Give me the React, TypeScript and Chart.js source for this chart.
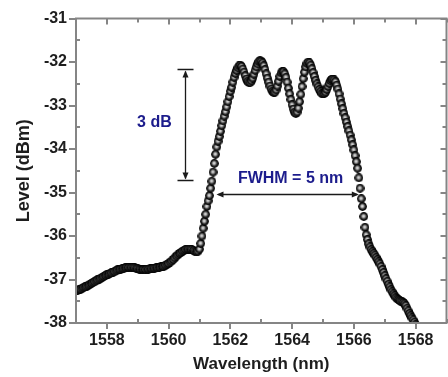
import React, { useEffect, useRef } from "react";
import { Chart, registerables } from "chart.js";

Chart.register(...registerables);

// ---- data ----
const wavelengthNm = [
  1557.00, 1557.05, 1557.10, 1557.15, 1557.20, 1557.25, 1557.30, 1557.35, 1557.40, 1557.45,
  1557.50, 1557.55, 1557.60, 1557.65, 1557.70, 1557.75, 1557.80, 1557.85, 1557.90, 1557.95,
  1558.00, 1558.05, 1558.10, 1558.15, 1558.20, 1558.25, 1558.30, 1558.35, 1558.40, 1558.45,
  1558.50, 1558.55, 1558.60, 1558.65, 1558.70, 1558.75, 1558.80, 1558.85, 1558.90, 1558.95,
  1559.00, 1559.05, 1559.10, 1559.15, 1559.20, 1559.25, 1559.30, 1559.35, 1559.40, 1559.45,
  1559.50, 1559.55, 1559.60, 1559.65, 1559.70, 1559.75, 1559.80, 1559.85, 1559.90, 1559.95,
  1560.00, 1560.05, 1560.10, 1560.15, 1560.20, 1560.25, 1560.30, 1560.35, 1560.40, 1560.45,
  1560.50, 1560.55, 1560.60, 1560.65, 1560.70, 1560.75, 1560.80, 1560.85, 1560.90, 1560.95,
  1561.00, 1561.04, 1561.08, 1561.12, 1561.16, 1561.20, 1561.24, 1561.28, 1561.32, 1561.36,
  1561.40, 1561.44, 1561.48, 1561.52, 1561.56, 1561.60, 1561.64, 1561.68, 1561.72, 1561.76,
  1561.80, 1561.84, 1561.88, 1561.92, 1561.96, 1562.00, 1562.04, 1562.08, 1562.12, 1562.16,
  1562.20, 1562.24, 1562.28, 1562.32, 1562.36, 1562.40, 1562.44, 1562.48, 1562.52, 1562.56,
  1562.60, 1562.64, 1562.68, 1562.72, 1562.76, 1562.80, 1562.84, 1562.88, 1562.92, 1562.96,
  1563.00, 1563.04, 1563.08, 1563.12, 1563.16, 1563.20, 1563.24, 1563.28, 1563.32, 1563.36,
  1563.40, 1563.44, 1563.48, 1563.52, 1563.56, 1563.60, 1563.64, 1563.68, 1563.72, 1563.76,
  1563.80, 1563.84, 1563.88, 1563.92, 1563.96, 1564.00, 1564.04, 1564.08, 1564.12, 1564.16,
  1564.20, 1564.24, 1564.28, 1564.32, 1564.36, 1564.40, 1564.44, 1564.48, 1564.52, 1564.56,
  1564.60, 1564.64, 1564.68, 1564.72, 1564.76, 1564.80, 1564.84, 1564.88, 1564.92, 1564.96,
  1565.00, 1565.04, 1565.08, 1565.12, 1565.16, 1565.20, 1565.24, 1565.28, 1565.32, 1565.36,
  1565.40, 1565.44, 1565.48, 1565.52, 1565.56, 1565.60, 1565.64, 1565.68, 1565.72, 1565.76,
  1565.80, 1565.84, 1565.88, 1565.92, 1565.96, 1566.00, 1566.04, 1566.08, 1566.12, 1566.16,
  1566.20, 1566.24, 1566.28, 1566.32, 1566.36, 1566.40, 1566.44, 1566.48, 1566.52, 1566.56,
  1566.60, 1566.64, 1566.68, 1566.72, 1566.76, 1566.80, 1566.84, 1566.88, 1566.92, 1566.96,
  1567.00, 1567.04, 1567.08, 1567.12, 1567.16, 1567.20, 1567.24, 1567.28, 1567.32, 1567.36,
  1567.40, 1567.44, 1567.48, 1567.52, 1567.56, 1567.60, 1567.64, 1567.68, 1567.72, 1567.76,
  1567.80, 1567.84, 1567.88, 1567.92, 1567.96, 1568.00, 1568.04,
];

const levelDbm = [
  -37.26, -37.25, -37.23, -37.22, -37.20, -37.18, -37.17, -37.15, -37.13, -37.11,
  -37.09, -37.07, -37.05, -37.03, -37.01, -36.99, -36.97, -36.95, -36.93, -36.91,
  -36.89, -36.88, -36.86, -36.85, -36.83, -36.82, -36.80, -36.78, -36.77, -36.76,
  -36.75, -36.74, -36.73, -36.72, -36.72, -36.72, -36.72, -36.72, -36.73, -36.74,
  -36.75, -36.76, -36.77, -36.77, -36.77, -36.77, -36.76, -36.76, -36.75, -36.75,
  -36.74, -36.74, -36.73, -36.73, -36.72, -36.71, -36.70, -36.69, -36.67, -36.65,
  -36.63, -36.60, -36.57, -36.54, -36.50, -36.46, -36.43, -36.40, -36.38, -36.35,
  -36.33, -36.31, -36.30, -36.30, -36.30, -36.31, -36.33, -36.35, -36.36, -36.35,
  -36.30, -36.17, -36.00, -35.82, -35.66, -35.50, -35.32, -35.19, -35.07, -34.90,
  -34.74, -34.53, -34.33, -34.12, -33.95, -33.82, -33.71, -33.59, -33.46, -33.35,
  -33.24, -33.14, -33.03, -32.91, -32.79, -32.67, -32.58, -32.46, -32.35, -32.26,
  -32.19, -32.13, -32.09, -32.07, -32.10, -32.16, -32.23, -32.31, -32.39, -32.44,
  -32.47, -32.47, -32.43, -32.37, -32.28, -32.19, -32.11, -32.04, -31.99, -31.97,
  -31.98, -32.02, -32.08, -32.17, -32.27, -32.37, -32.46, -32.55, -32.62, -32.67,
  -32.70, -32.69, -32.64, -32.55, -32.44, -32.33, -32.25, -32.22, -32.22, -32.27,
  -32.35, -32.46, -32.60, -32.73, -32.86, -32.98, -33.08, -33.15, -33.18, -33.15,
  -33.06, -32.91, -32.74, -32.56, -32.38, -32.23, -32.11, -32.03, -32.00, -32.02,
  -32.07, -32.15, -32.24, -32.33, -32.42, -32.50, -32.57, -32.63, -32.68, -32.72,
  -32.73, -32.72, -32.69, -32.63, -32.56, -32.49, -32.43, -32.40, -32.39, -32.41,
  -32.45, -32.53, -32.62, -32.73, -32.85, -32.96, -33.07, -33.18, -33.28, -33.38,
  -33.48, -33.58, -33.68, -33.79, -33.90, -34.02, -34.15, -34.29, -34.44, -34.66,
  -34.90, -35.14, -35.32, -35.55, -35.80, -35.97, -36.08, -36.18, -36.25, -36.31,
  -36.36, -36.40, -36.44, -36.49, -36.54, -36.59, -36.64, -36.70, -36.77, -36.84,
  -36.91, -36.98, -37.04, -37.11, -37.17, -37.23, -37.28, -37.33, -37.37, -37.41,
  -37.44, -37.46, -37.48, -37.50, -37.51, -37.53, -37.56, -37.60, -37.66, -37.72,
  -37.78, -37.83, -37.88, -37.93, -37.98, -38.04, -38.10,
];

const xMajorTicks = [1558, 1560, 1562, 1564, 1566, 1568];
const xMinorTicks = [1557, 1559, 1561, 1563, 1565, 1567, 1569];
const yMajorTicks = [-38, -37, -36, -35, -34, -33, -32, -31];
const yMinorTicks = [-37.5, -36.5, -35.5, -34.5, -33.5, -32.5, -31.5];

const xRange = [1557, 1569];
const yRange = [-38, -31];

// annotation anchors (data coordinates)
const dbArrowX = 1560.54;
const dbArrowTop = -32.15;
const dbArrowBottom = -34.71;
const dbLabel = { x: 1559.54, y: -33.39, text: "3 dB" };
const fwhmArrowY = -35.03;
const fwhmArrowLeft = 1561.55;
const fwhmArrowRight = 1566.16;
const fwhmLabel = { x: 1563.95, y: -34.67, text: "FWHM = 5 nm" };

const FONT = "'Liberation Sans', Arial, sans-serif";
const AXIS_COLOR = "#858585";
const TEXT_COLOR = "#1e1e1e";
const NOTE_COLOR = "#1c1c8c";

function makeSphere(d: number): HTMLCanvasElement {
  const c = document.createElement("canvas");
  c.width = d;
  c.height = d;
  const g = c.getContext("2d")!;
  const r = d / 2;
  const grad = g.createRadialGradient(r - 0.4, r - 0.4, 0.2, r, r, r);
  grad.addColorStop(0, "#e6e6e6");
  grad.addColorStop(0.28, "#a8a8a8");
  grad.addColorStop(0.55, "#3c3c3c");
  grad.addColorStop(0.78, "#0a0a0a");
  grad.addColorStop(1, "#000000");
  g.fillStyle = grad;
  g.beginPath();
  g.arc(r, r, r - 0.1, 0, Math.PI * 2);
  g.fill();
  return c;
}

function arrowHead(ctx: CanvasRenderingContext2D, tx: number, ty: number, dx: number, dy: number) {
  const len = 7;
  const half = 3;
  const bx = tx - dx * len;
  const by = ty - dy * len;
  ctx.beginPath();
  ctx.moveTo(tx, ty);
  ctx.lineTo(bx - dy * half, by + dx * half);
  ctx.lineTo(bx + dy * half, by - dx * half);
  ctx.closePath();
  ctx.fill();
}

const framePlugin = {
  id: "frameTicks",
  afterDatasetsDraw(chart: any) {
    const { ctx, chartArea } = chart;
    const { left, right, top, bottom } = chartArea;
    const xs = chart.scales.x;
    const ys = chart.scales.y;
    ctx.save();
    ctx.strokeStyle = AXIS_COLOR;
    ctx.lineWidth = 2;
    ctx.beginPath();
    ctx.rect(left, top, right - left, bottom - top);
    ctx.stroke();
    ctx.beginPath();
    xMajorTicks.forEach((v) => {
      const p = Math.round(xs.getPixelForValue(v));
      ctx.moveTo(p, bottom);
      ctx.lineTo(p, bottom + 6);
      ctx.moveTo(p, top);
      ctx.lineTo(p, top + 6);
    });
    xMinorTicks.forEach((v) => {
      const p = Math.round(xs.getPixelForValue(v));
      ctx.moveTo(p, bottom);
      ctx.lineTo(p, bottom - 4);
      ctx.moveTo(p, top);
      ctx.lineTo(p, top + 4);
    });
    yMajorTicks.forEach((v) => {
      const p = Math.round(ys.getPixelForValue(v));
      ctx.moveTo(left - 7, p);
      ctx.lineTo(left, p);
      ctx.moveTo(right, p);
      ctx.lineTo(right - 6, p);
    });
    yMinorTicks.forEach((v) => {
      const p = Math.round(ys.getPixelForValue(v));
      ctx.moveTo(left, p);
      ctx.lineTo(left + 4, p);
      ctx.moveTo(right, p);
      ctx.lineTo(right - 4, p);
    });
    ctx.stroke();

    // annotations
    ctx.strokeStyle = "#1a1a1a";
    ctx.fillStyle = "#1a1a1a";
    ctx.lineWidth = 1.3;
    const ax = Math.round(xs.getPixelForValue(dbArrowX)) + 0.5;
    const at = Math.round(ys.getPixelForValue(dbArrowTop)) + 0.5;
    const ab = Math.round(ys.getPixelForValue(dbArrowBottom)) + 0.5;
    ctx.beginPath();
    ctx.moveTo(ax - 8, at);
    ctx.lineTo(ax + 8, at);
    ctx.moveTo(ax - 8, ab);
    ctx.lineTo(ax + 8, ab);
    ctx.moveTo(ax, at + 2);
    ctx.lineTo(ax, ab - 2);
    ctx.stroke();
    arrowHead(ctx, ax, at + 1, 0, -1);
    arrowHead(ctx, ax, ab - 1, 0, 1);

    const fy = Math.round(ys.getPixelForValue(fwhmArrowY)) + 0.5;
    const fl = xs.getPixelForValue(fwhmArrowLeft);
    const fr = xs.getPixelForValue(fwhmArrowRight);
    ctx.beginPath();
    ctx.moveTo(fl + 2, fy);
    ctx.lineTo(fr - 2, fy);
    ctx.stroke();
    arrowHead(ctx, fl, fy, -1, 0);
    arrowHead(ctx, fr, fy, 1, 0);

    ctx.fillStyle = NOTE_COLOR;
    ctx.font = `bold 16px ${FONT}`;
    ctx.textAlign = "center";
    ctx.textBaseline = "middle";
    ctx.fillText(dbLabel.text, xs.getPixelForValue(dbLabel.x), ys.getPixelForValue(dbLabel.y));
    ctx.fillText(fwhmLabel.text, xs.getPixelForValue(fwhmLabel.x), ys.getPixelForValue(fwhmLabel.y));
    ctx.restore();
  },
};

export default function App() {
  const ref = useRef<HTMLCanvasElement | null>(null);

  useEffect(() => {
    if (!ref.current) return;
    const sphere = makeSphere(9);
    const points = wavelengthNm.map((x, i) => ({ x, y: levelDbm[i] }));
    const chart = new Chart(ref.current, {
      type: "scatter",
      data: {
        datasets: [
          {
            data: points,
            pointStyle: sphere as any,
            pointRadius: 4.5,
            showLine: false,
          },
        ],
      },
      options: {
        animation: false,
        responsive: false,
        events: [],
        layout: { padding: { left: 0, right: 3, top: 12, bottom: 0 } },
        plugins: { legend: { display: false }, tooltip: { enabled: false } },
        scales: {
          x: {
            type: "linear",
            min: xRange[0],
            max: xRange[1],
            grid: { display: false, drawTicks: false },
            border: { display: false },
            afterBuildTicks: (s: any) => {
              s.ticks = xMajorTicks.map((v) => ({ value: v }));
            },
            afterFit: (s: any) => {
              s.height = 54;
            },
            ticks: {
              padding: 8,
              color: TEXT_COLOR,
              font: { family: FONT, size: 16, weight: "bold" },
              callback: (v: any) => String(v),
              maxRotation: 0,
              autoSkip: false,
            },
            title: {
              display: true,
              text: "Wavelength (nm)",
              color: TEXT_COLOR,
              font: { family: FONT, size: 17, weight: "bold" },
              padding: { top: 0, bottom: 2 },
            },
          },
          y: {
            type: "linear",
            min: yRange[0],
            max: yRange[1],
            grid: { display: false, drawTicks: false },
            border: { display: false },
            afterBuildTicks: (s: any) => {
              s.ticks = yMajorTicks.map((v) => ({ value: v }));
            },
            afterFit: (s: any) => {
              s.width = 76;
            },
            ticks: {
              padding: 9,
              color: TEXT_COLOR,
              font: { family: FONT, size: 16, weight: "bold" },
              callback: (v: any) => String(v),
              autoSkip: false,
            },
            title: {
              display: true,
              text: "Level (dBm)",
              color: TEXT_COLOR,
              font: { family: FONT, size: 18, weight: "bold" },
              padding: { top: 13, bottom: 0 },
            },
          },
        },
      },
      plugins: [framePlugin],
    });
    return () => chart.destroy();
  }, []);

  return (
    <div style={{ position: "fixed", left: 0, top: 0, width: 448, height: 377, overflow: "hidden", background: "#fff" }}>
      <canvas ref={ref} width={452} height={377} style={{ display: "block" }} />
    </div>
  );
}
